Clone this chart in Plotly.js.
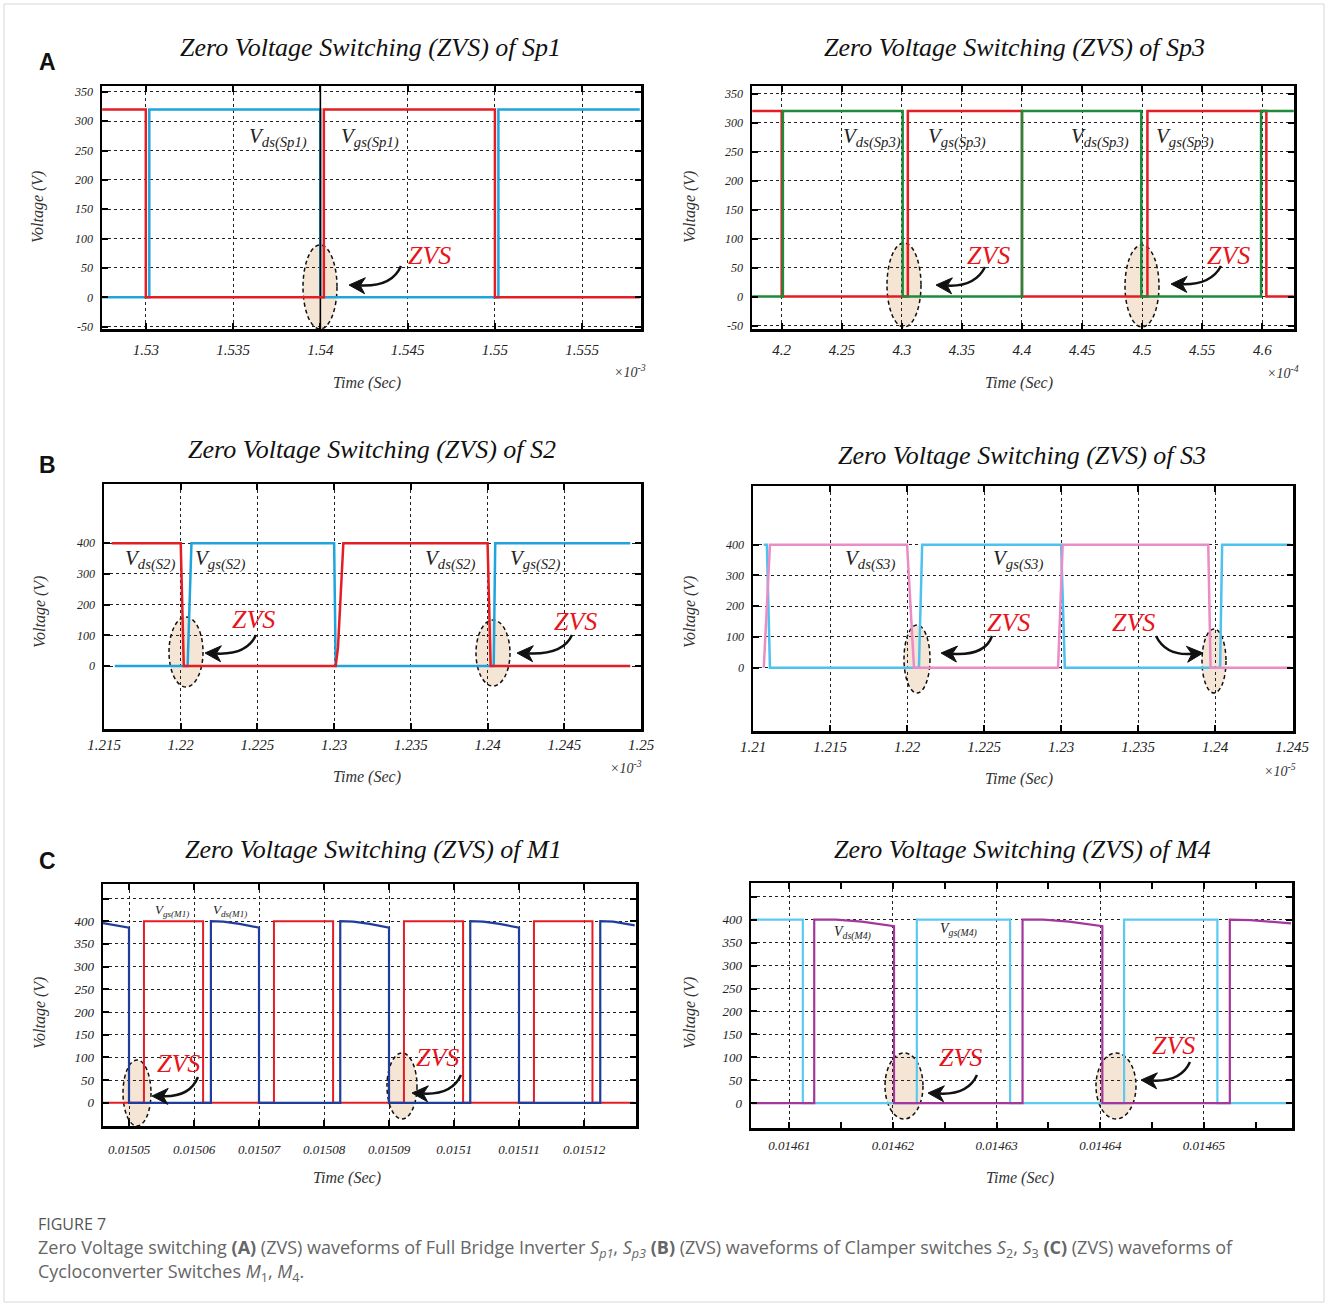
<!DOCTYPE html>
<html><head><meta charset="utf-8">
<script src="https://cdn.plot.ly/plotly-3.0.1.min.js"></script>
<style>html,body{margin:0;padding:0;background:#fff}#chart{width:1328px;height:1306px}</style>
</head><body><div id="chart"></div>
<script>
// ---------------- DATA ----------------
// (A) Sp1, time in units of 1e-3 s
const sp1VdsTime = [1.5275, 1.5302, 1.5302, 1.5400, 1.5400, 1.5502, 1.5502, 1.5583];
const sp1Vds     = [0, 0, 320, 320, 0, 0, 320, 320];
const sp1VgsTime = [1.5275, 1.5300, 1.5300, 1.5402, 1.5402, 1.5500, 1.5500, 1.5583];
const sp1Vgs     = [320, 320, 0, 0, 320, 320, 0, 0];
const sp1MarkTime = [1.54, 1.54];
const sp1MarkV    = [-54, 360];
// (A) Sp3, time in units of 1e-4 s
const sp3VdsTime = [4.1755, 4.201, 4.201, 4.3007, 4.3007, 4.400, 4.400, 4.4993, 4.4993, 4.599, 4.599, 4.6262];
const sp3Vds     = [0, 0, 320, 320, 0, 0, 320, 320, 0, 0, 320, 320];
const sp3VgsTime = [4.1755, 4.200, 4.200, 4.305, 4.305, 4.400, 4.400, 4.5044, 4.5044, 4.6034, 4.6034, 4.6262];
const sp3Vgs     = [320, 320, 0, 0, 320, 320, 0, 0, 320, 320, 0, 0];
// (B) S2, time in units of 1e-3 s
const s2VdsTime = [1.2155, 1.2200, 1.2202, 1.2301, 1.23025, 1.2306, 1.2400, 1.2402, 1.2493];
const s2Vds     = [400, 400, 0, 0, 60, 400, 400, 0, 0];
const s2VgsTime = [1.2157, 1.22045, 1.2207, 1.2300, 1.2301, 1.2404, 1.2405, 1.2493];
const s2Vgs     = [0, 0, 400, 400, 0, 0, 400, 400];
// (B) S3, time in units of 1e-5 s
const s3VdsTime = [1.2107, 1.2111, 1.2200, 1.22045, 1.2298, 1.2301, 1.23955, 1.2397, 1.2449];
const s3Vds     = [0, 400, 400, 0, 0, 400, 400, 0, 0];
const s3VgsTime = [1.2107, 1.2109, 1.2111, 1.22077, 1.22098, 1.2300, 1.23024, 1.24032, 1.24045, 1.2449];
const s3Vgs     = [400, 400, 0, 0, 400, 400, 0, 0, 400, 400];
// (C) M1, time in s
const m1VdsTime = [0.0150460, 0.0150500, 0.0150500, 0.0150626, 0.0150626, 0.0150645, 0.0150670, 0.0150700, 0.0150700,
                   0.0150825, 0.0150825, 0.0150845, 0.0150870, 0.0150900, 0.0150900, 0.0151025, 0.0151025, 0.0151045,
                   0.0151070, 0.0151100, 0.0151100, 0.0151225, 0.0151225, 0.0151245, 0.0151278];
const m1Vds     = [396, 386, 0, 0, 400, 399, 394, 386, 0, 0, 400, 399, 394, 386, 0, 0, 400, 399, 394, 386, 0, 0, 400, 399, 391];
const m1VgsTime = [0.0150460, 0.0150523, 0.0150523, 0.0150614, 0.0150614, 0.0150723, 0.0150723, 0.0150814, 0.0150814,
                   0.0150923, 0.0150923, 0.0151014, 0.0151014, 0.0151123, 0.0151123, 0.0151213, 0.0151213, 0.0151278];
const m1Vgs     = [0, 0, 400, 400, 0, 0, 400, 400, 0, 0, 400, 400, 0, 0, 400, 400, 0, 0];
// (C) M4, time in s
const m4VgsTime = [0.0146064, 0.0146113, 0.0146113, 0.0146223, 0.0146223, 0.0146313, 0.0146313, 0.0146423, 0.0146423,
                   0.0146513, 0.0146513, 0.0146584];
const m4Vgs     = [400, 400, 0, 0, 400, 400, 0, 0, 400, 400, 0, 0];
const m4VdsTime = [0.0146064, 0.0146124, 0.0146124, 0.0146145, 0.0146170, 0.0146201, 0.0146201, 0.0146325, 0.0146325,
                   0.0146345, 0.0146370, 0.0146402, 0.0146402, 0.0146525, 0.0146525, 0.0146545, 0.0146584];
const m4Vds     = [0, 0, 400, 400, 396, 386, 0, 0, 400, 400, 396, 386, 0, 0, 400, 399, 392];

// tick labels
const sp1Ticks = [1.53, 1.535, 1.54, 1.545, 1.55, 1.555];
const sp1TickText = ['1.53', '1.535', '1.54', '1.545', '1.55', '1.555'];
const sp3Ticks = [4.2, 4.25, 4.3, 4.35, 4.4, 4.45, 4.5, 4.55, 4.6];
const sp3TickText = ['4.2', '4.25', '4.3', '4.35', '4.4', '4.45', '4.5', '4.55', '4.6'];
const s2Ticks = [1.215, 1.22, 1.225, 1.23, 1.235, 1.24, 1.245, 1.25];
const s2TickText = ['1.215', '1.22', '1.225', '1.23', '1.235', '1.24', '1.245', '1.25'];
const s3Ticks = [1.21, 1.215, 1.22, 1.225, 1.23, 1.235, 1.24, 1.245];
const s3TickText = ['1.21', '1.215', '1.22', '1.225', '1.23', '1.235', '1.24', '1.245'];
const m1Ticks = [0.01505, 0.01506, 0.01507, 0.01508, 0.01509, 0.0151, 0.01511, 0.01512];
const m1TickText = ['0.01505', '0.01506', '0.01507', '0.01508', '0.01509', '0.0151', '0.01511', '0.01512'];
const m4Ticks = [0.01461, 0.01462, 0.01463, 0.01464, 0.01465];
const m4TickText = ['0.01461', '0.01462', '0.01463', '0.01464', '0.01465'];
const vTicksA = [-50, 0, 50, 100, 150, 200, 250, 300, 350];
const vTicksAText = ['-50', '0', '50', '100', '150', '200', '250', '300', '350'];
const vTicksB = [0, 100, 200, 300, 400];
const vTicksBText = ['0', '100', '200', '300', '400'];
const vTicksC = [0, 50, 100, 150, 200, 250, 300, 350, 400, 450];
const vTicksCText = ['0', '50', '100', '150', '200', '250', '300', '350', '400', ''];

// ---------------- LAYOUT HELPERS ----------------
const W = 1328, H = 1306;
const PX = x => x / W, PY = y => 1 - y / H;
const SERIF = 'Liberation Serif, Times New Roman, serif';

function dom(x0, x1, y0, y1) { return {x: [PX(x0), PX(x1)], y: [PY(y1), PY(y0)]}; }
const base = {
  showline: true, linecolor: '#000', linewidth: 2.5, mirror: 'allticks',
  ticks: 'inside', ticklen: 6, tickwidth: 2, tickcolor: '#000',
  showgrid: true, gridcolor: '#222', griddash: '3px,3px', gridwidth: 1,
  zeroline: false, fixedrange: true, tickmode: 'array'
};
function xax(d, range, tv, tt, anchor, size, standoff, extra) {
  return Object.assign({}, base, {domain: d.x, range, tickvals: tv, ticktext: tt, anchor,
    ticklabelstandoff: standoff,
    tickfont: {family: SERIF, style: 'italic', size: size, color: '#222'}}, extra || {});
}
function yax(d, range, tv, tt, anchor, size) {
  return Object.assign({}, base, {domain: d.y, range, tickvals: tv, ticktext: tt, anchor,
    ticklabelstandoff: 4,
    tickfont: {family: SERIF, style: 'italic', size: size, color: '#222'}});
}

const dA1 = dom(102, 641, 86, 329), dA2 = dom(752, 1294, 86, 329);
const dB1 = dom(104, 641, 484, 729), dB2 = dom(753, 1293, 486, 731);
const dC1 = dom(103, 636, 884, 1126), dC2 = dom(751, 1292, 883, 1128);

const RED = '#e41e25', BLUE = '#20a4dd', GREEN = '#1f8a3b', PINK = '#ea8cc6',
      SKY = '#4fc1ef', NAVY = '#1e3d9c', CYAN = '#5cc9f1', MAG = '#a4379b';

function tr(x, y, xa, ya, color, w) {
  return {x, y, xaxis: xa, yaxis: ya, mode: 'lines', line: {color, width: w},
          hoverinfo: 'skip', showlegend: false};
}
const data = [
  tr(sp1VdsTime, sp1Vds, 'x', 'y', BLUE, 2.5),
  tr(sp1MarkTime, sp1MarkV, 'x', 'y', '#000', 1.6),
  tr(sp1VgsTime, sp1Vgs, 'x', 'y', RED, 2.5),
  tr(sp3VgsTime, sp3Vgs, 'x2', 'y2', RED, 2.5),
  tr(sp3VdsTime, sp3Vds, 'x2', 'y2', GREEN, 2.5),
  tr(s2VgsTime, s2Vgs, 'x3', 'y3', BLUE, 2.5),
  tr(s2VdsTime, s2Vds, 'x3', 'y3', RED, 2.5),
  tr(s3VgsTime, s3Vgs, 'x4', 'y4', SKY, 2.5),
  tr(s3VdsTime, s3Vds, 'x4', 'y4', PINK, 2.5),
  tr(m1VgsTime, m1Vgs, 'x5', 'y5', RED, 2),
  tr(m1VdsTime, m1Vds, 'x5', 'y5', NAVY, 2.2),
  tr(m4VgsTime, m4Vgs, 'x6', 'y6', CYAN, 2.2),
  tr(m4VdsTime, m4Vds, 'x6', 'y6', MAG, 2.2)
];

// ---------------- ANNOTATIONS ----------------
const ann = [];
function T(x, y, text, size, color, opts) {
  ann.push(Object.assign({xref: 'paper', yref: 'paper', x: PX(x), y: PY(y), text, showarrow: false,
    xanchor: 'center', yanchor: 'middle',
    font: {family: SERIF, size, color, style: 'italic'}}, opts || {}));
}
const titles = [
  [371, 48, 'Zero Voltage Switching (ZVS) of Sp1'], [1015, 48, 'Zero Voltage Switching (ZVS) of Sp3'],
  [372, 449, 'Zero Voltage Switching (ZVS) of S2'], [1022, 455, 'Zero Voltage Switching (ZVS) of S3'],
  [373, 849, 'Zero Voltage Switching (ZVS) of M1'], [1022, 849, 'Zero Voltage Switching (ZVS) of M4']
];
titles.forEach(t => T(t[0], t[1], t[2], 26, '#111'));
[[47, 62, 'A'], [47, 465, 'B'], [47, 861, 'C']].forEach(t =>
  T(t[0], t[1], '<b>' + t[2] + '</b>', 23, '#111', {font: {family: 'Liberation Sans, Arial, sans-serif', size: 23, color: '#111'}}));
[[367, 383], [1019, 383], [367, 777], [1019, 779], [347, 1178], [1020, 1178]].forEach(p =>
  T(p[0], p[1], 'Time (Sec)', 16, '#333'));
[[38, 207], [690, 207], [40, 612], [690, 612], [40, 1013], [690, 1013]].forEach(p =>
  T(p[0], p[1], 'Voltage (V)', 16, '#333', {textangle: -90}));
[[630, 371, '-3'], [1283, 372, '-4'], [626, 767, '-3'], [1280, 770, '-5']].forEach(p =>
  T(p[0], p[1], '×10<sup>' + p[2] + '</sup>', 14, '#333'));
const vLabels = [
  [278, 137, 'ds(Sp1)', 21], [370, 137, 'gs(Sp1)', 21],
  [872, 137, 'ds(Sp3)', 21], [957, 137, 'gs(Sp3)', 21], [1100, 137, 'ds(Sp3)', 21], [1185, 137, 'gs(Sp3)', 21],
  [150, 559, 'ds(S2)', 21], [220, 559, 'gs(S2)', 21], [450, 559, 'ds(S2)', 21], [535, 559, 'gs(S2)', 21],
  [870, 560, 'ds(S3)', 21], [1018, 560, 'gs(S3)', 21],
  [172, 910, 'gs(M1)', 13], [230, 910, 'ds(M1)', 13],
  [852, 933, 'ds(M4)', 14], [958, 930, 'gs(M4)', 14]
];
vLabels.forEach(v => T(v[0], v[1], 'V<sub>' + v[2] + '</sub>', v[3], '#222'));
const zvs = [[430, 256], [988, 255], [1228, 255], [253, 620], [575, 621], [1008, 622], [1133, 622],
             [178, 1063], [437, 1057], [960, 1057], [1173, 1045]];
zvs.forEach(z => T(z[0], z[1], 'ZVS', 26, '#e8141c'));

// caption
const CAP = 'Open Sans, Noto Sans, sans-serif';
T(36, 1224, 'FIGURE 7', 16, '#555', {xanchor: 'left', font: {family: CAP, size: 16, color: '#555'}});
T(36, 1248, 'Zero Voltage switching <b>(A)</b> (ZVS) waveforms of Full Bridge Inverter <i>S</i><sub><i>p1</i></sub>, <i>S</i><sub><i>p3</i></sub> <b>(B)</b> (ZVS) waveforms of Clamper switches <i>S</i><sub>2</sub>, <i>S</i><sub>3</sub> <b>(C)</b> (ZVS) waveforms of',
  18, '#666', {xanchor: 'left', font: {family: CAP, size: 18, color: '#666'}});
T(36, 1272, 'Cycloconverter Switches <i>M</i><sub>1</sub>, <i>M</i><sub>4</sub>.',
  18, '#666', {xanchor: 'left', font: {family: CAP, size: 18, color: '#666'}});

// ---------------- SHAPES (ellipses, curved arrows) ----------------
const shapes = [];
shapes.push({type: 'rect', xref: 'paper', yref: 'paper', x0: PX(4), x1: PX(1324), y0: PY(1302), y1: PY(4),
  line: {color: '#d8d8d8', width: 1}, layer: 'below'});
const ellipses = [[320, 287, 17, 42], [904, 285, 17, 42], [1142, 286, 17, 41],
  [186, 652, 17, 35], [493, 653, 17, 33], [917, 659, 13, 34], [1214, 661, 12, 32],
  [137, 1093, 14, 33], [402, 1086, 15, 33], [904, 1086, 19, 33], [1116, 1086, 20, 33]];
ellipses.forEach(e => shapes.push({type: 'circle', xref: 'paper', yref: 'paper',
  x0: PX(e[0] - e[2]), x1: PX(e[0] + e[2]), y0: PY(e[1] + e[3]), y1: PY(e[1] - e[3]),
  fillcolor: 'rgba(241,220,198,0.75)', line: {color: '#111', width: 1.5, dash: '4px,3px'}, layer: 'below'}));
// arrows: start, control, tip (pixel coords)
const arrows = [
  [[401, 266], [392, 287], [349, 285]],
  [[985, 267], [975, 287], [936, 285]],
  [[1221, 266], [1211, 285], [1171, 284]],
  [[256, 635], [247, 655], [205, 653]],
  [[572, 635], [563, 655], [517, 653]],
  [[992, 636], [985, 656], [941, 653]],
  [[1156, 636], [1166, 656], [1203, 653]],
  [[198, 1077], [190, 1097], [152, 1096]],
  [[461, 1075], [452, 1095], [412, 1093]],
  [[977, 1075], [968, 1095], [928, 1093]],
  [[1190, 1062], [1181, 1082], [1141, 1080]]
];
arrows.forEach(a => {
  const [s, c, t] = a;
  let dx = t[0] - c[0], dy = t[1] - c[1];
  const L = Math.hypot(dx, dy); dx /= L; dy /= L;
  const len = 16, hw = 8;
  const bx = t[0] - dx * len, by = t[1] - dy * len;
  const nx = -dy, ny = dx;
  const mx = t[0] - dx * len * 0.7, my = t[1] - dy * len * 0.7;
  shapes.push({type: 'path', xref: 'paper', yref: 'paper',
    path: `M ${PX(s[0])} ${PY(s[1])} Q ${PX(c[0])} ${PY(c[1])} ${PX(mx)} ${PY(my)}`,
    line: {color: '#111', width: 2.5}});
  shapes.push({type: 'path', xref: 'paper', yref: 'paper',
    path: `M ${PX(t[0])} ${PY(t[1])} L ${PX(bx + nx * hw)} ${PY(by + ny * hw)} L ${PX(mx)} ${PY(my)} L ${PX(bx - nx * hw)} ${PY(by - ny * hw)} Z`,
    fillcolor: '#111', line: {color: '#111', width: 1}});
});

const layout = {
  width: W, height: H, margin: {l: 0, r: 0, t: 0, b: 0},
  paper_bgcolor: '#fff', plot_bgcolor: 'rgba(0,0,0,0)', showlegend: false,
  xaxis:  xax(dA1, [1.52749, 1.55837], sp1Ticks, sp1TickText, 'y', 15, 5),
  yaxis:  yax(dA1, [-54, 360], vTicksA, vTicksAText, 'x', 12),
  xaxis2: xax(dA2, [4.1753, 4.6264], sp3Ticks, sp3TickText, 'y2', 15, 5),
  yaxis2: yax(dA2, [-56, 363], vTicksA, vTicksAText, 'x2', 12),
  xaxis3: xax(dB1, [1.215, 1.25], s2Ticks, s2TickText, 'y3', 15, 0),
  yaxis3: yax(dB1, [-205, 593], vTicksB, vTicksBText, 'x3', 12),
  xaxis4: xax(dB2, [1.21, 1.24505], s3Ticks, s3TickText, 'y4', 15, 0),
  yaxis4: yax(dB2, [-206, 591], vTicksB, vTicksBText, 'x4', 12),
  xaxis5: xax(dC1, [0.0150460, 0.0151280], m1Ticks, m1TickText, 'y5', 13, 10),
  yaxis5: yax(dC1, [-51, 482], vTicksC, vTicksCText, 'x5', 13),
  xaxis6: xax(dC2, [0.0146063, 0.0146585], m4Ticks, m4TickText, 'y6', 13, 4,
    {minor: {dtick: 0.000005, tick0: 0.01461, ticks: 'inside', ticklen: 6, tickwidth: 2, tickcolor: '#000', showgrid: false}}),
  yaxis6: yax(dC2, [-54, 480], vTicksC, vTicksCText, 'x6', 13),
  annotations: ann, shapes
};
Plotly.newPlot('chart', data, layout, {staticPlot: true});
</script></body></html>
